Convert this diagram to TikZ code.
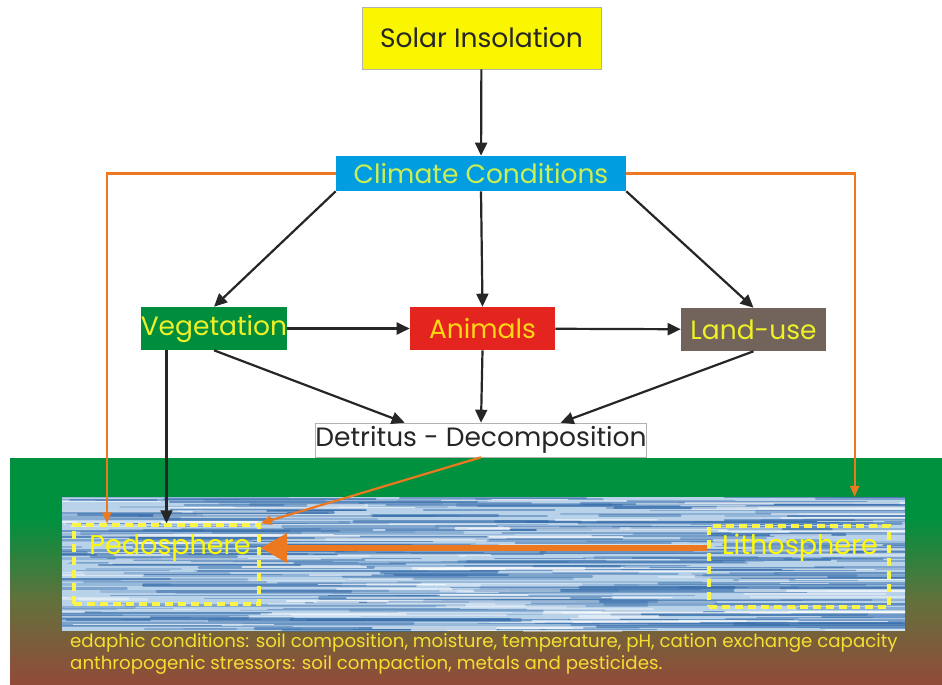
\documentclass[tikz,border=0pt]{standalone}
\usepackage{fontspec}
\setmainfont{Poppins}
\newfontfamily\gfont{Poppins}
\usetikzlibrary{arrows.meta,calc}
\definecolor{solarY}{RGB}{250,246,0}
\definecolor{climB}{RGB}{0,158,224}
\definecolor{climT}{RGB}{205,238,80}
\definecolor{vegG}{RGB}{0,142,62}
\definecolor{animR}{RGB}{228,36,30}
\definecolor{landB}{RGB}{114,100,90}
\definecolor{txtY}{RGB}{238,240,40}
\definecolor{sphT}{RGB}{255,250,0}
\definecolor{orng}{RGB}{236,120,32}
\definecolor{bandG}{RGB}{0,145,62}
\definecolor{bandB}{RGB}{146,74,56}
\definecolor{soilBase}{RGB}{184,210,234}
\definecolor{streakD}{RGB}{50,105,168}
\definecolor{dashY}{RGB}{250,245,70}
\definecolor{bottomT}{RGB}{245,222,50}
\tikzset{
  boxnode/.style={draw=gray!60, line width=0.6pt, inner sep=0pt, font=\gfont\fontsize{26.5}{26.5}\selectfont},
  blackarrow/.style={draw=black!85, line width=2.2pt, -{Triangle[length=13pt,width=12pt]}},
  orangearrow/.style={draw=orng, line width=2.2pt, -{Triangle[length=11pt,width=9pt]}},
  thickarrow/.style={draw=orng, line width=5.5pt, -{Triangle[length=26pt,width=28pt]}},
  spherebox/.style={draw=dashY, line width=3.5pt, dash pattern=on 8pt off 5pt, inner sep=0pt},
  spheretext/.style={text=sphT, font=\gfont\fontsize{27}{27}\selectfont, inner sep=0pt},
  bottomtext/.style={text=bottomT, font=\gfont\fontsize{18.2}{18.2}\selectfont, inner sep=0pt, anchor=west}
}
\begin{document}
\begin{tikzpicture}[x=1pt,y=-1pt]
\useasboundingbox (0,0) rectangle (942,685);
\fill[white] (0,0) rectangle (942,685);
% ground band
\fill[bandG] (10,458) rectangle (942,520);
\shade[top color=bandG, bottom color=bandB, middle color={rgb,255:red,100;green,112;blue,60}] (10,519) rectangle (942,685);
% soil texture
\node[draw=none, inner sep=0pt, minimum width=843pt, minimum height=134pt] (soil) at (483.5,564) {};
\begin{scope}
\clip (62,497) rectangle (905,631);
\fill[soilBase] (62,497) rectangle (905,631);
\pgfmathsetseed{11}
\foreach \i in {1,...,300}{
  \pgfmathsetmacro\yy{497+134*rnd}
  \pgfmathsetmacro\xx{-80+920*rnd}
  \pgfmathsetmacro\ll{80+300*rnd}
  \pgfmathsetmacro\ww{0.8+2.8*rnd}
  \pgfmathsetmacro\op{0.2+0.45*rnd}
  \draw[line width=\ww pt, streakD, opacity=\op, line cap=round] (\xx,\yy) -- ++(\ll,0);
}
\foreach \i in {1,...,120}{
  \pgfmathsetmacro\yy{497+134*rnd}
  \pgfmathsetmacro\xx{-60+900*rnd}
  \pgfmathsetmacro\ll{40+200*rnd}
  \pgfmathsetmacro\ww{0.8+2.2*rnd}
  \pgfmathsetmacro\op{0.3+0.4*rnd}
  \draw[line width=\ww pt, white, opacity=\op, line cap=round] (\xx,\yy) -- ++(\ll,0);
}
\end{scope}
% nodes
\node[boxnode, fill=solarY, text=black!85, minimum width=239pt, minimum height=62pt] (solar) at (481.5,38) {Solar Insolation};
\node[boxnode, draw=none, fill=climB, text=climT, minimum width=290pt, minimum height=35pt] (clim) at (481,173.5) {Climate Conditions};
\node[boxnode, draw=none, fill=vegG, text=txtY, minimum width=146pt, minimum height=43pt] (veg) at (214,328.5) {Vegetation};
\node[boxnode, draw=none, fill=animR, text={rgb,255:red,255;green,215;blue,20}, minimum width=145pt, minimum height=43pt] (anim) at (482.5,328.5) {Animals};
\node[boxnode, draw=none, fill=landB, text=txtY, minimum width=145pt, minimum height=43pt] (land) at (753.5,329.5) {Land-use};
\node[boxnode, fill=white, text=black!85, minimum width=330pt, minimum height=34pt] (det) at (481,440) {Detritus - Decomposition};
\node[spherebox, minimum width=185pt, minimum height=79pt] (ped) at (166.5,564.5) {};
\node[spherebox, minimum width=180pt, minimum height=81pt] (lith) at (799,566.5) {};
\node[spheretext] (pedtext) at (170,548) {Pedosphere};
\node[spheretext] (lithtext) at (800,548) {Lithosphere};
\node[bottomtext] (t1) at (70,643) {edaphic conditions: soil composition, moisture, temperature, pH, cation exchange capacity};
\node[bottomtext] (t2) at (70,665) {anthropogenic stressors: soil compaction, metals and pesticides.};
% black arrows
\draw[blackarrow] (solar) -- (clim);
\draw[blackarrow] (clim.south west) -- (veg.north);
\draw[blackarrow] (clim.south) -- (anim.north);
\draw[blackarrow] (clim.south east) -- (land.north);
\draw[blackarrow] (veg) -- (anim);
\draw[blackarrow] (anim) -- (land);
\draw[blackarrow] (veg.south) -- ($(det.north west)!0.27!(det.north east)$);
\draw[blackarrow] (anim.south) -- (det.north);
\draw[blackarrow] (land.south) -- ($(det.north west)!0.74!(det.north east)$);
\draw[blackarrow] (veg.south -| ped.north) -- (ped.north);
% orange arrows
\draw[orangearrow] (clim.west) -| ($(ped.north west)!0.184!(ped.north east)$);
\draw[orangearrow] (clim.east) -| ($(soil.north west)!0.94!(soil.north east)$);
\draw[orangearrow] (det.south) -- (ped.north east);
\draw[thickarrow] (lith.west |- lithtext) -- (ped.east |- lithtext);
\end{tikzpicture}
\end{document}
